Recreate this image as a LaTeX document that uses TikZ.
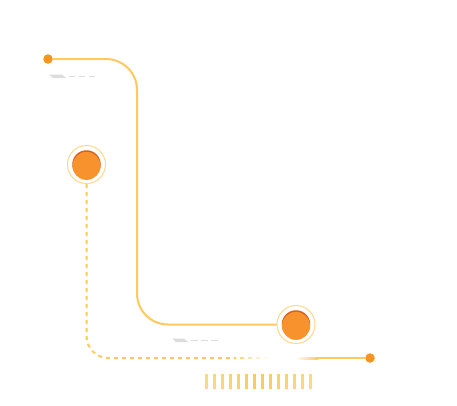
\documentclass[tikz,border=0pt]{standalone}
\definecolor{TLLine}{HTML}{FFC95E}
\definecolor{TLRing}{HTML}{FFD88C}
\definecolor{TLCore}{HTML}{F8922D}
\definecolor{TLCoreDark}{HTML}{D8601C}
\definecolor{TLDot}{HTML}{F7931E}
\definecolor{TLMark}{HTML}{DCDCDC}

\begin{document}
\begin{tikzpicture}[x=1pt,y=-1pt,font=\sffamily,
  trail/.style={draw=TLLine,line width=2pt},
  traildash/.style={trail,dash pattern=on 4pt off 4pt},
  hubring/.style={circle,draw=TLRing,fill=white,line width=1pt,minimum size=38pt,inner sep=0pt},
  hubcore/.style={circle,fill=TLCore,minimum size=28pt,inner sep=0pt},
  hubshadow/.style={circle,fill=TLCoreDark,minimum size=28.5pt,inner sep=0pt},
  enddotstyle/.style={circle,fill=TLDot,minimum size=9.5pt,inner sep=0pt},
  markline/.style={draw=TLMark,line width=1.5pt}]
  \fill[white] (0,0) rectangle (457,405);
  \useasboundingbox (0,0) rectangle (457,405);

  \node[enddotstyle] (startdot) at (48,59) {};
  \node[enddotstyle] (enddot) at (370,358) {};
  \node[hubring] (hubA) at (86.5,164.5) {};
  \node[hubring] (hubB) at (296,324.5) {};

  \coordinate (elbowA) at (137,324.5);
  \coordinate (fadeStart) at (236,358);
  \coordinate (glowStart) at (295,358);

  % solid trail from the start dot to the second hub
  \draw[trail,rounded corners=31pt] (startdot) -| (elbowA) -- (hubB.west);

  % dashed trail from the first hub, fading out
  \draw[traildash,rounded corners=22pt] (hubA.south) |- (fadeStart);
  \foreach \k/\op in {0/0.75,1/0.5,2/0.3,3/0.12}
    \draw[trail,opacity=\op] ([xshift=4+8*\k]fadeStart) -- ++(4,0);
  \shade[left color=white,right color=TLLine]
    ([yshift=1]glowStart) rectangle ([xshift=23,yshift=-1]glowStart);
  \draw[trail] ([xshift=23]glowStart) -- (enddot);

  % hubs
  \foreach \hub in {hubA,hubB}{
    \node[hubshadow] at (\hub) {};
    \node[hubcore] at ([yshift=-1.4]\hub.center) {};
  }

  % grey placeholder marks
  \fill[TLMark] (49,74.5) -- (62,74.5) -- (66,78) -- (53,78) -- cycle;
  \foreach \x in {69,79,89}
    \draw[markline] (\x,76.5) -- ++(6,0);
  \fill[TLMark] (172,338.5) -- (184,338.5) -- (188,342) -- (176,342) -- cycle;
  \foreach \x in {191,201,211}
    \draw[markline] (\x,340.3) -- ++(6.5,0);

  % bars
  \foreach \i in {0,...,13}{
    \pgfmathsetmacro\barmix{100-abs(\i-6.5)*4}
    \fill[TLLine!\barmix!white] (204.5+8*\i,373.5) rectangle ++(3.6,15);
  }
\end{tikzpicture}
\end{document}
